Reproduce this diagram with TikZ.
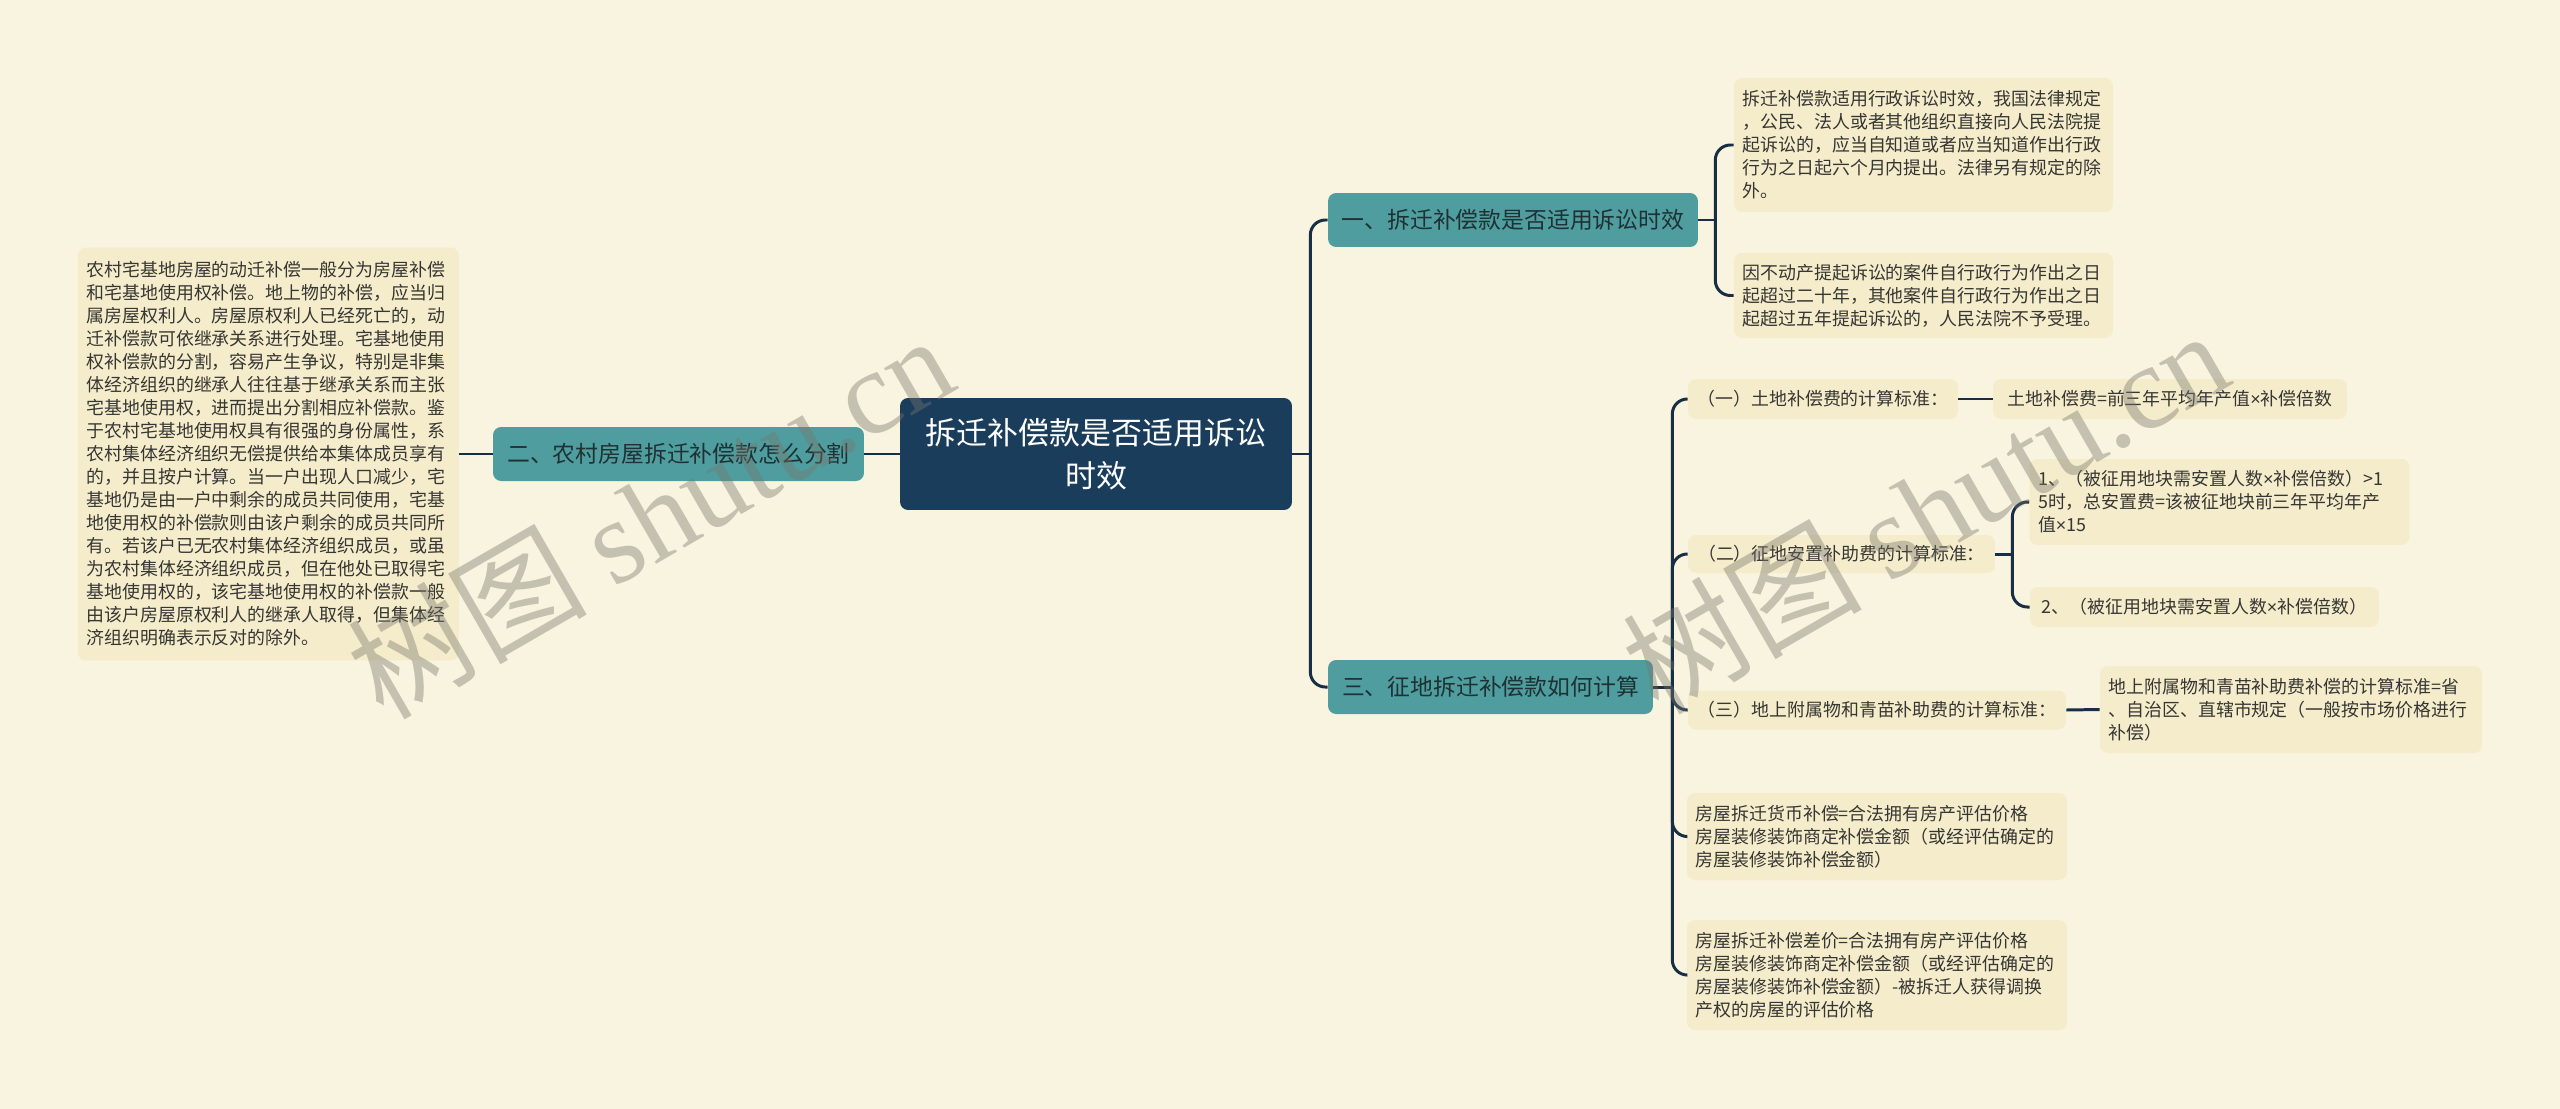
\documentclass[tikz,border=0pt]{standalone}
\usepackage{fontspec}
\setmainfont{Noto Sans CJK SC}
\newfontfamily\wmlatin{Liberation Serif}
\newfontfamily\narrowsans{Liberation Sans}
\newcommand\tms{{\narrowsans ×}}
\usepackage{tikz}
\definecolor{cream}{HTML}{F9F4DF}
\definecolor{leafbg}{HTML}{F4ECCB}
\definecolor{tealbox}{HTML}{4F9D9E}
\definecolor{tealink}{HTML}{1E3134}
\definecolor{rootblue}{HTML}{1B3D5C}
\definecolor{linkblue}{HTML}{172E45}
\definecolor{ink}{HTML}{363633}
\definecolor{wmgray}{HTML}{77756C}
\tikzset{
  every node/.style={text=ink},
  root/.style={fill=rootblue,text=white,rounded corners=0.16cm,align=center,inner sep=0pt,
    font=\fontsize{17.6}{24.4}\selectfont},
  branch/.style={fill=tealbox,text=tealink,rounded corners=0.16cm,align=center,inner sep=0pt,
    font=\fontsize{13}{16}\selectfont},
  leaf/.style={fill=leafbg,rounded corners=0.16cm,align=left,inner xsep=0.17cm,inner ysep=0pt,
    font=\fontsize{10.2}{13.1}\selectfont},
  link/.style={draw=linkblue,line width=1.7pt,rounded corners=0.3cm},
  wmark/.style={text=wmgray,opacity=0.4,rotate=30,font=\fontsize{68}{68}\selectfont}
}

\begin{document}
\begin{tikzpicture}[x=0.02cm,y=-0.02cm]
  \fill[cream] (0,0) rectangle (2560,1109);
  \node[root,text width=7.84cm,minimum height=2.24cm] (root) at (1096,454) {拆迁补偿款是否适用诉讼\\时效};
  \node[branch,minimum width=7.40cm,minimum height=1.08cm] (b1) at (1513,220) {一、拆迁补偿款是否适用诉讼时效};
  \node[branch,minimum width=7.42cm,minimum height=1.08cm] (b2) at (678.5,454) {二、农村房屋拆迁补偿款怎么分割};
  \node[branch,minimum width=6.50cm,minimum height=1.08cm] (b3) at (1490.5,687) {三、征地拆迁补偿款如何计算};

  \node[leaf,text width=7.28cm,minimum height=8.26cm] (farm) at (268.5,454) {农村宅基地房屋的动迁补偿一般分为房屋补偿\\和宅基地使用权补偿。地上物的补偿，应当归\\属房屋权利人。房屋原权利人已经死亡的，动\\迁补偿款可依继承关系进行处理。宅基地使用\\权补偿款的分割，容易产生争议，特别是非集\\体经济组织的继承人往往基于继承关系而主张\\宅基地使用权，进而提出分割相应补偿款。鉴\\于农村宅基地使用权具有很强的身份属性，系\\农村集体经济组织无偿提供给本集体成员享有\\的，并且按户计算。当一户出现人口减少，宅\\基地仍是由一户中剩余的成员共同使用，宅基\\地使用权的补偿款则由该户剩余的成员共同所\\有。若该户已无农村集体经济组织成员，或虽\\为农村集体经济组织成员，但在他处已取得宅\\基地使用权的，该宅基地使用权的补偿款一般\\由该户房屋原权利人的继承人取得，但集体经\\济组织明确表示反对的除外。};

  \node[leaf,text width=7.24cm,minimum height=2.68cm] (l1a) at (1923.5,145) {拆迁补偿款适用行政诉讼时效，我国法律规定\\，公民、法人或者其他组织直接向人民法院提\\起诉讼的，应当自知道或者应当知道作出行政\\行为之日起六个月内提出。法律另有规定的除\\外。};
  \node[leaf,text width=7.24cm,minimum height=1.70cm] (l1b) at (1923.5,295.5) {因不动产提起诉讼的案件自行政行为作出之日\\起超过二十年，其他案件自行政行为作出之日\\起超过五年提起诉讼的，人民法院不予受理。};

  \node[leaf,minimum width=5.40cm,minimum height=0.80cm] (c1) at (1823,399) {（一）土地补偿费的计算标准：};
  \node[leaf,minimum width=7.08cm,minimum height=0.80cm] (c1leaf) at (2170,399) {土地补偿费=前三年平均年产值\tms 补偿倍数};
  \node[leaf,minimum width=6.14cm,minimum height=0.76cm] (c2) at (1841.5,554) {（二）征地安置补助费的计算标准：};
  \node[leaf,text width=7.26cm,minimum height=1.72cm] (c2a) at (2219.5,502) {1、（被征用地块需安置人数\tms 补偿倍数）>1\\5时，总安置费=该被征地块前三年平均年产\\值\tms 15};
  \node[leaf,minimum width=6.98cm,minimum height=0.80cm] (c2b) at (2204.5,607) {2、（被征用地块需安置人数\tms 补偿倍数）};
  \node[leaf,minimum width=7.56cm,minimum height=0.78cm] (c3) at (1877,710) {（三）地上附属物和青苗补助费的计算标准：};
  \node[leaf,text width=7.30cm,minimum height=1.74cm] (c3leaf) at (2291,709.5) {地上附属物和青苗补助费补偿的计算标准=省\\、自治区、直辖市规定（一般按市场价格进行\\补偿）};
  \node[leaf,text width=7.26cm,minimum height=1.74cm] (c4) at (1877,836.5) {房屋拆迁货币补偿=合法拥有房产评估价格\\房屋装修装饰商定补偿金额（或经评估确定的\\房屋装修装饰补偿金额）};
  \node[leaf,text width=7.26cm,minimum height=2.20cm] (c5) at (1877,975) {房屋拆迁补偿差价=合法拥有房产评估价格\\房屋装修装饰商定补偿金额（或经评估确定的\\房屋装修装饰补偿金额）-被拆迁人获得调换\\产权的房屋的评估价格};

  \draw[link] (root.west) -- (b2.east);
  \draw[link] (b2.west) -- (farm.east);
  \draw[link] (root.east) -- ++(18,0) coordinate (t0);
  \foreach \n in {b1,b3} \draw[link] (t0) |- (\n.west);
  \draw[link] (b1.east) -- ++(17,0) coordinate (t1);
  \foreach \n in {l1a,l1b} \draw[link] (t1) |- (\n.west);
  \draw[link] (b3.east) -- ++(19,0) coordinate (t3);
  \foreach \n in {c1,c2,c3,c4,c5} \draw[link] (t3) |- (\n.west);
  \draw[link] (c1.east) -- (c1leaf.west);
  \draw[link] (c2.east) -- ++(17,0) coordinate (t2);
  \foreach \n in {c2a,c2b} \draw[link] (t2) |- (\n.west);
  \draw[link] (c3.east) -- (c3leaf.west);

  \node[wmark] (wm1) at (650,515) {树图 {\wmlatin shutu.cn}};
  \node[wmark] (wm2) at (1925,510) {树图 {\wmlatin shutu.cn}};
\end{tikzpicture}
\end{document}
